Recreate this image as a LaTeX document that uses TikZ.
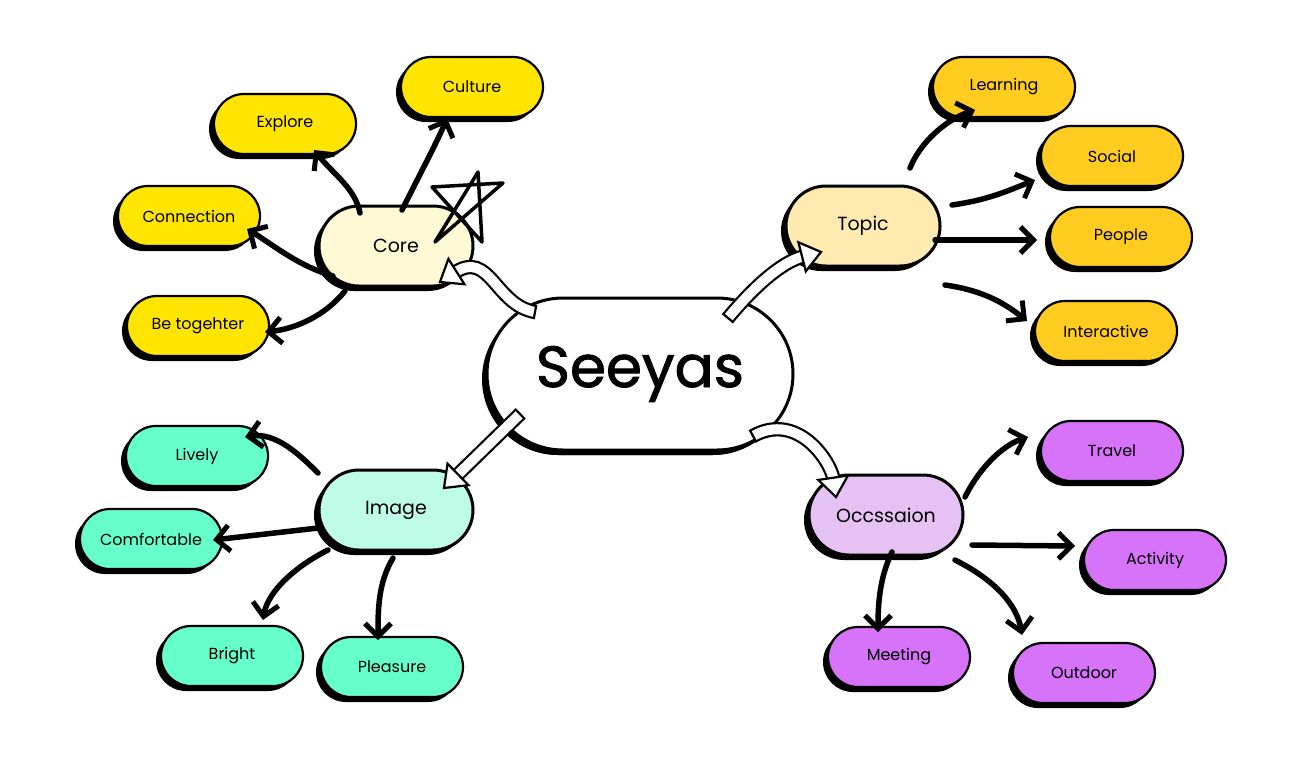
\documentclass[tikz,border=0pt]{standalone}
\usepackage{fontspec}
\setmainfont{Poppins}
\newfontfamily\heavyfont{Poppins}[FakeBold=1.6]
\usetikzlibrary{arrows.meta,shadows,decorations.markings,shapes.misc,calc}
\definecolor{coreleaf}{HTML}{FFE500}
\definecolor{corefill}{HTML}{FFF9D5}
\definecolor{topicfill}{HTML}{FFEBB0}
\definecolor{topicleaf}{HTML}{FFCC1F}
\definecolor{imagefill}{HTML}{BFFCE8}
\definecolor{imageleaf}{HTML}{66FFCB}
\definecolor{occfill}{HTML}{E6C1F3}
\definecolor{occleaf}{HTML}{D773F9}
\tikzset{
  pillbase/.style={rounded rectangle, draw=black, line width=2.2pt, inner sep=0pt,
    drop shadow={shadow xshift=-5pt, shadow yshift=-5pt, fill=black, opacity=1}},
  leaf/.style={pillbase, minimum width=142pt, minimum height=60pt, font=\fontsize{16}{18}\selectfont},
  mainpill/.style={pillbase, line width=3pt, minimum width=154pt, minimum height=80pt, font=\fontsize{19}{22}\selectfont},
  conn/.style={line width=5.5pt, line cap=round, line join=round,
    -{Straight Barb[length=13pt, width=26pt, line width=5pt]}},
  hollow/.style={draw=none,
    postaction={draw=black, line width=2.2pt, double=white, double distance=10pt, shorten >=18pt},
    postaction={decorate, decoration={markings,
      mark=at position 0.5pt with {\draw[line width=2.2pt] (-0.5pt,-7.2pt) -- (-0.5pt,7.2pt);},
      mark=at position -0.5pt with {\draw[line width=2.2pt, line join=miter, fill=white] (0.5pt,0pt) -- (-19pt,15pt) -- (-19pt,-15pt) -- cycle;}}}},
  starline/.style={line width=3.5pt, line join=round, line cap=round}
}
\begin{document}
\begin{tikzpicture}[x=1pt, y=-1pt]
\useasboundingbox (0,0) rectangle (1311,764);

% centre
\node[pillbase, fill=white, line width=3pt, minimum width=306pt, minimum height=152pt,
  drop shadow={shadow xshift=-4pt, shadow yshift=-5pt, fill=black, opacity=1},
  font=\fontsize{58}{62}\heavyfont] (seeyas) at (640,374) {Seeyas};

% main nodes
\node[mainpill, fill=corefill] (core) at (396,246) {Core};
\node[mainpill, fill=topicfill] (topic) at (863,226) {Topic};
\node[mainpill, fill=imagefill] (image) at (396,510) {Image};
\node[mainpill, fill=occfill] (occ) at (886,515) {Occssaion};

% core leaves
\node[leaf, fill=coreleaf] (explore) at (285,124) {Explore};
\node[leaf, fill=coreleaf] (culture) at (472,87) {Culture};
\node[leaf, fill=coreleaf] (connection) at (189,216) {Connection};
\node[leaf, fill=coreleaf] (together) at (198,326) {Be togehter};

% topic leaves
\node[leaf, fill=topicleaf] (learning) at (1004,87) {Learning};
\node[leaf, fill=topicleaf] (social) at (1112,156) {Social};
\node[leaf, fill=topicleaf] (people) at (1121,237) {People};
\node[leaf, fill=topicleaf] (interactive) at (1106,331) {Interactive};

% image leaves
\node[leaf, fill=imageleaf] (lively) at (197,456) {Lively};
\node[leaf, fill=imageleaf] (comfortable) at (151,539) {Comfortable};
\node[leaf, fill=imageleaf] (bright) at (232,656) {Bright};
\node[leaf, fill=imageleaf] (pleasure) at (392,667) {Pleasure};

% occasion leaves
\node[leaf, fill=occleaf] (travel) at (1112,451) {Travel};
\node[leaf, fill=occleaf] (activity) at (1155,560) {Activity};
\node[leaf, fill=occleaf] (meeting) at (899,657) {Meeting};
\node[leaf, fill=occleaf] (outdoor) at (1084,673) {Outdoor};

% star beside Core
\coordinate (sT) at (478,172);
\coordinate (sBL) at (435,242);
\coordinate (sUR) at (503,183);
\coordinate (sUL) at (432,187);
\coordinate (sBR) at (482,242);
\draw[starline] (sT) -- (sBL) -- (sUR) -- (sUL) -- (sBR) -- cycle;

% hollow arrows from the centre
\draw[hollow] ($(seeyas)+(-105,-62)$) .. controls +(-40,-7) and +(50,-32) .. ($(core)+(44,36)$);
\draw[hollow] ($(seeyas)+(88,-56)$) .. controls +(25,-30) and +(-40,10) .. ($(topic)+(-42,26)$);
\draw[hollow] ($(seeyas)+(-120,40)$) -- ($(image)+(48,-22)$);
\draw[hollow] ($(seeyas)+(113,62)$) .. controls +(45,-25) and +(-5,-35) .. ($(occ)+(-50,-18)$);

% core connectors
\draw[conn] ($(core)+(-36,-33)$) .. controls +(-5,-25) and +(20,25) .. ($(explore)+(29,26)$);
\draw[conn] ($(core)+(6,-36)$) .. controls +(15,-30) and +(-8,20) .. ($(culture)+(-25,31)$);
\draw[conn] ($(core)+(-63,30)$) .. controls +(-35,-10) and +(25,15) .. ($(connection)+(58,13)$);
\draw[conn] ($(core)+(-51,45)$) .. controls +(-20,25) and +(30,-3) .. ($(together)+(67,6)$);

% topic connectors
\draw[conn] ($(topic)+(47,-58)$) .. controls +(10,-25) and +(-30,10) .. ($(learning)+(-29,23)$);
\draw[conn] ($(topic)+(89,-21)$) .. controls +(35,-5) and +(-30,12) .. ($(social)+(-77,24)$);
\draw[conn] ($(topic)+(72,14)$) -- ($(people)+(-84,3)$);
\draw[conn] ($(topic)+(82,59)$) .. controls +(35,5) and +(-25,-20) .. ($(interactive)+(-79,-10)$);

% image connectors
\draw[conn] ($(image)+(-78,-37)$) .. controls +(-20,-20) and +(30,-5) .. ($(lively)+(48,-19)$);
\draw[conn] ($(image)+(-78,18)$) -- ($(comfortable)+(62,1)$);
\draw[conn] ($(image)+(-68,40)$) .. controls +(-30,15) and +(5,-30) .. ($(bright)+(31,-36)$);
\draw[conn] ($(image)+(-3,48)$) .. controls +(-15,25) and +(0,-30) .. ($(pleasure)+(-14,-27)$);

% occasion connectors
\draw[conn] ($(occ)+(79,-18)$) .. controls +(15,-30) and +(-25,8) .. ($(travel)+(-84,-14)$);
\draw[conn] ($(occ)+(86,30)$) -- ($(activity)+(-80,-14)$);
\draw[conn] ($(occ)+(6,37)$) .. controls +(-12,25) and +(0,-30) .. ($(meeting)+(-21,-25)$);
\draw[conn] ($(occ)+(69,45)$) .. controls +(40,20) and +(-5,-30) .. ($(outdoor)+(-62,-38)$);
\end{tikzpicture}
\end{document}
